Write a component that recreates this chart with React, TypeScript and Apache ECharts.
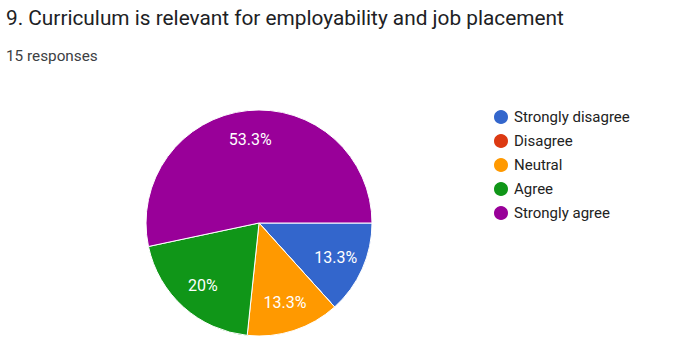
import React, { useEffect, useRef } from "react";
import * as echarts from "echarts";

const titleText = "9. Curriculum is relevant for employability and job placement";
const subtitleText = "15 responses";
const categories = ["Strongly disagree", "Disagree", "Neutral", "Agree", "Strongly agree"];
const counts = [2, 0, 2, 3, 8];
const colors = ["#3366cc", "#dc3912", "#ff9900", "#109618", "#990099"];

export default function App() {
  const ref = useRef<HTMLDivElement>(null);
  useEffect(() => {
    if (!ref.current) return;
    const chart = echarts.init(ref.current, undefined, { renderer: "svg" });
    const total = counts.reduce((a, b) => a + b, 0);
    const data = categories.map((name, i) => ({
      name,
      value: counts[i],
      itemStyle: { color: colors[i] },
    }));
    const fmt = (p: any) => {
      if (!p.value) return "";
      const pct = Math.round((p.value / total) * 1000) / 10;
      return pct + "%";
    };
    chart.setOption({
      animation: false,
      textStyle: { fontFamily: "Roboto" },
      title: [
        {
          text: titleText,
          left: 1,
          top: 2,
          textStyle: { fontFamily: "Roboto", fontSize: 20.8, fontWeight: "normal", color: "#202124" },
        },
        {
          text: subtitleText,
          left: 1,
          top: 43,
          textStyle: { fontFamily: "Roboto", fontSize: 15.3, fontWeight: "normal", color: "#3c4043" },
        },
      ],
      legend: {
        orient: "vertical",
        left: 492,
        top: 108,
        padding: 0,
        itemWidth: 16,
        itemHeight: 16,
        itemGap: 6,
        icon: "circle",
        textStyle: { fontFamily: "Roboto", fontSize: 15, lineHeight: 16, color: "#222222" },
        data: categories,
      },
      series: [
        {
          type: "pie",
          center: [259, 223],
          radius: [0, 113],
          startAngle: 0,
          clockwise: true,
          avoidLabelOverlap: false,
          itemStyle: { borderColor: "#ffffff", borderWidth: 1 },
          label: { show: false },
          labelLine: { show: false },
          emphasis: { disabled: true },
          data,
        },
        {
          type: "pie",
          center: [259, 223],
          radius: [0, 162],
          startAngle: 0,
          clockwise: true,
          silent: true,
          avoidLabelOverlap: false,
          itemStyle: { color: "rgba(0,0,0,0)", borderWidth: 0 },
          label: {
            show: true,
            position: "inside",
            formatter: fmt,
            color: "#ffffff",
            fontFamily: "Roboto",
            fontSize: 16,
          },
          labelLine: { show: false },
          emphasis: { disabled: true },
          data: categories.map((name, i) => ({ name, value: counts[i] })),
        },
      ],
    });
    return () => chart.dispose();
  }, []);
  return (
    <div
      ref={ref}
      style={{ position: "absolute", left: 0, top: 0, width: 678, height: 354 }}
    />
  );
}
